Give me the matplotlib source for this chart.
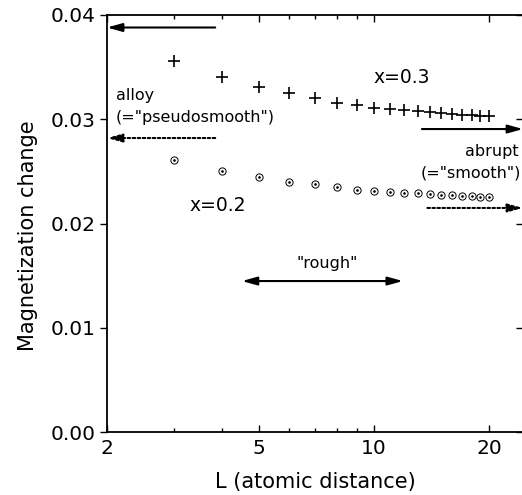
import numpy as np
import matplotlib
matplotlib.use('Agg')
import matplotlib.pyplot as plt
from matplotlib import ticker
plt.rcParams['font.family'] = ['DejaVu Sans']

# data
L = [3, 4, 5, 6, 7, 8, 9, 10, 11, 12, 13, 14, 15, 16, 17, 18, 19, 20]
dm_x03 = [0.03559, 0.03405, 0.03309, 0.03252, 0.03204, 0.03156, 0.03137, 0.03108,
          0.03098, 0.03089, 0.03079, 0.03070, 0.03060, 0.03050, 0.03045, 0.03040,
          0.03035, 0.03030]
dm_x02 = [0.02609, 0.02504, 0.02446, 0.02398, 0.02379, 0.02350, 0.02321, 0.02312,
          0.02300, 0.02293, 0.02288, 0.02283, 0.02278, 0.02273, 0.02268, 0.02263,
          0.02258, 0.02254]

# limit values marked by arrows
alloy_x03 = 0.0388
alloy_x02 = 0.0282
abrupt_x03 = 0.02906
abrupt_x02 = 0.02149
rough_level = 0.01448

fig = plt.figure(figsize=(5.22, 4.95), dpi=100)
ax = fig.add_axes([107/522, 63/495, 416/522, 417/495])

ax.plot(L, dm_x03, ls='none', marker='+', ms=8.5, mew=1.2, color='black', clip_on=False)
ax.plot(L, dm_x02, ls='none', marker='o', ms=5.2, mew=0.7, mfc='none', mec='black')
ax.plot(L, dm_x02, ls='none', marker='.', ms=1.8, color='black')

xmax = 24.55
ax.set_xscale('log')
ax.set_xlim(2, xmax)
ax.set_ylim(0, 0.04)

ax.xaxis.set_major_locator(ticker.FixedLocator([2, 5, 10, 20]))
ax.xaxis.set_major_formatter(ticker.FixedFormatter(['2', '5', '10', '20']))
ax.xaxis.set_minor_locator(ticker.FixedLocator([3, 4, 6, 7, 8, 9]))
ax.xaxis.set_minor_formatter(ticker.NullFormatter())
ax.yaxis.set_major_locator(ticker.MultipleLocator(0.01))
ax.yaxis.set_major_formatter(ticker.FormatStrFormatter('%.2f'))

ax.tick_params(axis='x', which='both', direction='in', top=True, labelsize=14.5, pad=5)
ax.tick_params(axis='x', which='major', length=5, width=1)
ax.tick_params(axis='x', which='minor', length=3, width=1)
ax.tick_params(axis='y', which='major', direction='out', length=5, width=1, labelsize=14.5, pad=3.5)
ax.tick_params(axis='y', which='major', right=True)
for t in ax.yaxis.get_major_ticks():
    t.tick2line.set_marker(matplotlib.lines.TICKLEFT)
for s in ['top', 'bottom', 'left', 'right']:
    ax.spines[s].set_linewidth(1.3)

ax.set_xlabel('L (atomic distance)', fontsize=15, labelpad=10)
ax.set_ylabel('Magnetization change', fontsize=15)
ax.yaxis.set_label_coords(-0.166, 0.47)

# arrows
solid = dict(arrowstyle='-|>,head_length=0.9,head_width=0.25', color='black', lw=1.5,
             shrinkA=0, shrinkB=0)
dotted = dict(arrowstyle='-|>,head_length=0.9,head_width=0.25', color='black', lw=1.5,
              shrinkA=0, shrinkB=0, linestyle=(0, (1.2, 1.2)))
ax.annotate('', xy=(2.0, alloy_x03), xytext=(3.84, alloy_x03), arrowprops=solid,
            annotation_clip=False)
ax.annotate('', xy=(2.0, alloy_x02), xytext=(3.84, alloy_x02), arrowprops=dotted,
            annotation_clip=False)
ax.annotate('', xy=(xmax, abrupt_x03), xytext=(13.35, abrupt_x03), arrowprops=solid,
            annotation_clip=False)
ax.annotate('', xy=(xmax, abrupt_x02), xytext=(13.8, abrupt_x02), arrowprops=dotted,
            annotation_clip=False)
ax.annotate('', xy=(11.9, rough_level), xytext=(4.51, rough_level),
            arrowprops=dict(arrowstyle='<|-|>,head_length=0.9,head_width=0.25',
                            color='black', lw=1.5, shrinkA=0, shrinkB=0))

# labels
ax.text(2.11, 0.03185, 'alloy', fontsize=11.5, va='baseline', ha='left')
ax.text(2.11, 0.02974, '(="pseudosmooth")', fontsize=11.5, va='baseline', ha='left')
ax.text(11.84, 0.03348, 'x=0.3', fontsize=13.5, va='baseline', ha='center')
ax.text(23.96, 0.02647, 'abrupt', fontsize=11.5, va='baseline', ha='right')
ax.text(24.3, 0.02437, '(="smooth")', fontsize=11.5, va='baseline', ha='right')
ax.text(3.905, 0.0212, 'x=0.2', fontsize=13.5, va='baseline', ha='center')
ax.text(7.53, 0.01573, '"rough"', fontsize=11.5, va='baseline', ha='center')

plt.savefig('out.png', dpi=100)
